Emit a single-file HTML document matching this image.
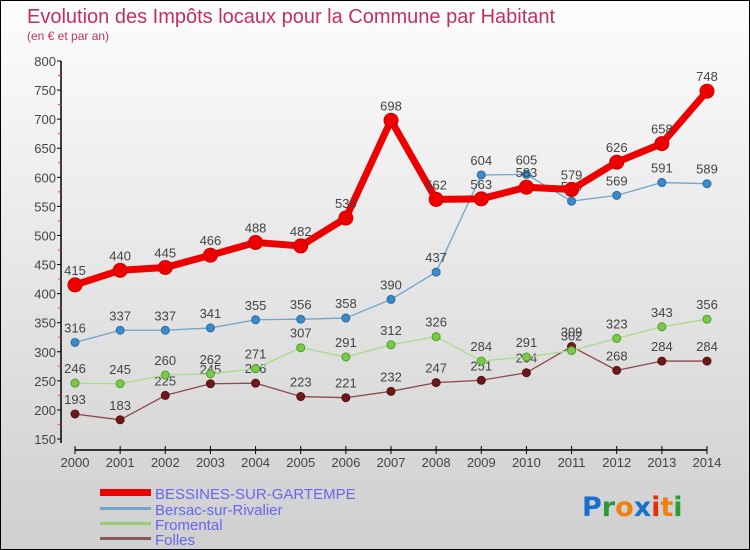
<!DOCTYPE html>
<html><head><meta charset="utf-8">
<style>
html,body{margin:0;padding:0}
body{width:750px;height:550px;overflow:hidden;font-family:"Liberation Sans",sans-serif}
svg{display:block}
</style></head>
<body>
<svg id="chart" width="750" height="550" xmlns="http://www.w3.org/2000/svg">
<defs>
<linearGradient id="bg" x1="0" y1="0" x2="0" y2="1">
<stop offset="0" stop-color="#fdfdfd"/><stop offset="1" stop-color="#cfcfcf"/>
</linearGradient>
</defs>
<rect x="0.5" y="0.5" width="749" height="549" fill="url(#bg)" stroke="#000"/>
<text x="27" y="23" font-size="20" fill="#c2305f">Evolution des Impôts locaux pour la Commune par Habitant</text>
<text x="27" y="40" font-size="12" fill="#c2305f">(en € et par an)</text>
<g id="axes"></g>
<g id="series"></g>
<g id="legend">
<rect x="100" y="489" width="51" height="7" fill="#e00"/>
<text x="155" y="499" font-size="15" fill="#6666ee">BESSINES-SUR-GARTEMPE</text>
<rect x="100" y="507" width="51" height="3" fill="#6fa4cc"/>
<text x="155" y="515" font-size="15" fill="#6666ee">Bersac-sur-Rivalier</text>
<rect x="100" y="522" width="51" height="3" fill="#99cc77"/>
<text x="155" y="530" font-size="15" fill="#6666ee">Fromental</text>
<rect x="100" y="537" width="51" height="3" fill="#8a5a5a"/>
<text x="155" y="545" font-size="15" fill="#6666ee">Folles</text>
</g>
<text x="582" y="516" font-size="27" font-weight="bold" font-family="'DejaVu Sans',sans-serif"><tspan fill="#1a6fcc">P</tspan><tspan fill="#2a9a3a">r</tspan><tspan fill="#f08010">o</tspan><tspan fill="#1a6fcc">x</tspan><tspan fill="#e03010">i</tspan><tspan fill="#f08010">t</tspan><tspan fill="#2a9a3a">i</tspan></text>
</svg>
<script>
const years = [2000,2001,2002,2003,2004,2005,2006,2007,2008,2009,2010,2011,2012,2013,2014];
const yTicks = [150,200,250,300,350,400,450,500,550,600,650,700,750,800];
const bessines = [415,440,445,466,488,482,530,698,562,563,583,579,626,658,748];
const bersac = [316,337,337,341,355,356,358,390,437,604,605,559,569,591,589];
const fromental = [246,245,260,262,271,307,291,312,326,284,291,302,323,343,356];
const folles = [193,183,225,245,246,223,221,232,247,251,264,309,268,284,284];

const NS="http://www.w3.org/2000/svg";
const X0=75,X1=707,Y0=439,Y1=61,VMIN=150,VMAX=800;
function xs(i){return X0+(X1-X0)*i/(years.length-1);}
function ys(v){return Y0-(v-VMIN)*(Y0-Y1)/(VMAX-VMIN);}
function mk(tag,attrs,parent){const e=document.createElementNS(NS,tag);for(const k in attrs)e.setAttribute(k,attrs[k]);parent.appendChild(e);return e;}
const axes=document.getElementById('axes');
const yl=mk('line',{x1:61,y1:Y1,x2:61,y2:Y0+4,stroke:'#000','stroke-width':1.5},axes);


yTicks.forEach((v,i)=>{
  const y=ys(v);
  const t=mk('line',{x1:57,y1:y,x2:61,y2:y,stroke:'#000'},axes);
  
  
  if(i<yTicks.length-1){
    const m=mk('line',{x1:58,y1:ys(v+25),x2:61,y2:ys(v+25),stroke:'#e33'},axes);
    
    
  }
  const l=mk('text',{x:56,y:y+5,'font-size':13,fill:'#444','text-anchor':'end'},axes);
  l.textContent=v;
  
  
});
const xl=mk('line',{x1:X0,y1:450,x2:X1,y2:450,stroke:'#000','stroke-width':1.5},axes);


years.forEach((yr,i)=>{
  const t=mk('line',{x1:xs(i),y1:446,x2:xs(i),y2:454,stroke:'#000'},axes);
  
  
  const l=mk('text',{x:xs(i),y:467,'font-size':13,fill:'#444','text-anchor':'middle'},axes);
  l.textContent=yr;
  
  
});
const sg=document.getElementById('series');
function draw(vals,name,color,lw,r,ptFill,ptStroke){
  const g=mk('g',{},sg);
  
  
  const p=mk('polyline',{points:vals.map((v,i)=>xs(i)+','+ys(v)).join(' '),fill:'none',stroke:color,'stroke-width':lw,'stroke-linejoin':'round'},g);
  
  
  vals.forEach((v,i)=>{
    const c=mk('circle',{cx:xs(i),cy:ys(v),r:r,fill:ptFill,stroke:ptStroke,'stroke-width':1},g);
    
    
    const t=mk('text',{x:xs(i),y:ys(v)-10,'font-size':13,fill:'#444','text-anchor':'middle'},g);
    t.textContent=v;
    
    
  });
}
draw(folles,'folles','#8a4a4a',1.3,4,'#6a1a1a','#5a1010');
draw(fromental,'fromental','#a6dd88',1.3,4,'#77cc44','#559933');
draw(bersac,'bersac','#6fa4cc',1.3,4,'#3a8acc','#2a6aa0');
draw(bessines,'bessines','#ee0000',7,7,'#ee0000','#cc0000');
</script>
</body></html>
